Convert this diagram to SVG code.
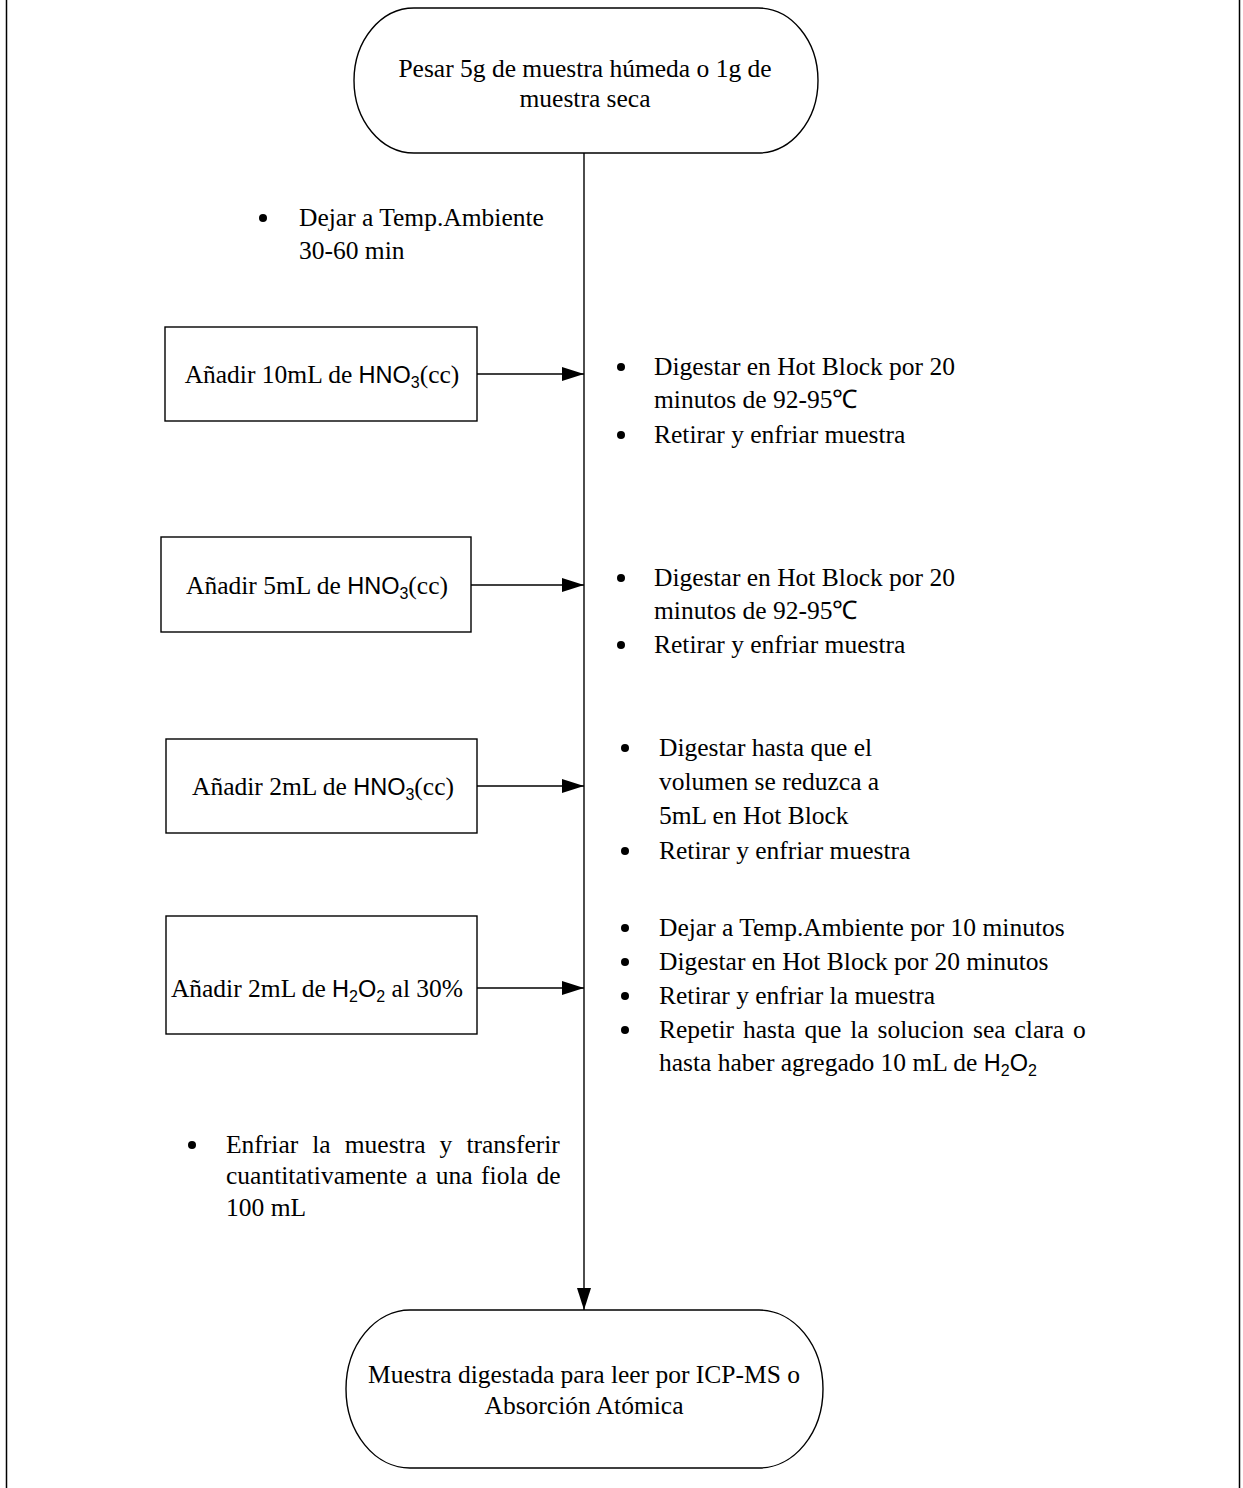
<svg xmlns="http://www.w3.org/2000/svg" width="1243" height="1488" viewBox="0 0 1243 1488">
  <style>
    .shape { fill: #fff; stroke: #000; stroke-width: 1.4; }
    .edge { fill: none; stroke: #000; stroke-width: 1.4; }
    text { font-family: "Liberation Serif", "Times New Roman", serif; font-size: 25.5px; fill: #000; }
    .c { text-anchor: middle; }
    .sans { font-family: "Liberation Sans", Arial, sans-serif; font-size: 23.5px; }
    .sub { font-family: "Liberation Sans", Arial, sans-serif; font-size: 16px; }
    .dot { fill: #000; }
  </style>
  <defs>
    <marker id="arrow" markerUnits="userSpaceOnUse" markerWidth="22" markerHeight="14" refX="22" refY="7" orient="auto">
      <path d="M0,0 L22,7 L0,14 z" fill="#000"/>
    </marker>
  </defs>

  <rect width="1243" height="1488" fill="#fff"/>
  <!-- page frame (side rules) -->
  <line x1="6.5" y1="0" x2="6.5" y2="1488" stroke="#000" stroke-width="1.5"/>
  <line x1="1239.5" y1="0" x2="1239.5" y2="1488" stroke="#000" stroke-width="1.5"/>

  <!-- connectors -->
  <g id="connectors">
    <line class="edge" x1="584" y1="153" x2="584" y2="1310" marker-end="url(#arrow)"/>
    <line class="edge" x1="477" y1="374" x2="584" y2="374" marker-end="url(#arrow)"/>
    <line class="edge" x1="471" y1="585" x2="584" y2="585" marker-end="url(#arrow)"/>
    <line class="edge" x1="477" y1="786" x2="584" y2="786" marker-end="url(#arrow)"/>
    <line class="edge" x1="477" y1="988" x2="584" y2="988" marker-end="url(#arrow)"/>
  </g>

  <!-- start terminator -->
  <g id="start">
    <rect class="shape" x="354" y="8" width="464" height="145" rx="60" ry="72.5"/>
    <text class="c" x="585" y="77">Pesar 5g de muestra húmeda o 1g de</text>
    <text class="c" x="585" y="107">muestra seca</text>
  </g>

  <!-- note: rest at ambient temperature -->
  <g id="note-ambient">
    <circle class="dot" cx="263" cy="218" r="4"/>
    <text x="299" y="226">Dejar a Temp.Ambiente</text>
    <text x="299" y="259">30-60 min</text>
  </g>

  <!-- step 1 -->
  <g id="step1">
    <rect class="shape" x="165" y="327" width="312" height="94"/>
    <text class="c" x="322" y="383">Añadir 10mL de <tspan class="sans">HNO</tspan><tspan class="sub" dy="5">3</tspan><tspan dy="-5">(cc)</tspan></text>
  </g>
  <g id="note1">
    <circle class="dot" cx="621" cy="367" r="4"/>
    <text x="654" y="375">Digestar en Hot Block por 20</text>
    <text x="654" y="408">minutos de 92-95℃</text>
    <circle class="dot" cx="621" cy="435" r="4"/>
    <text x="654" y="443">Retirar y enfriar muestra</text>
  </g>

  <!-- step 2 -->
  <g id="step2">
    <rect class="shape" x="161" y="537" width="310" height="95"/>
    <text class="c" x="317" y="594">Añadir 5mL de <tspan class="sans">HNO</tspan><tspan class="sub" dy="5">3</tspan><tspan dy="-5">(cc)</tspan></text>
  </g>
  <g id="note2">
    <circle class="dot" cx="621" cy="578" r="4"/>
    <text x="654" y="586">Digestar en Hot Block por 20</text>
    <text x="654" y="619">minutos de 92-95℃</text>
    <circle class="dot" cx="621" cy="645" r="4"/>
    <text x="654" y="653">Retirar y enfriar muestra</text>
  </g>

  <!-- step 3 -->
  <g id="step3">
    <rect class="shape" x="166" y="739" width="311" height="94"/>
    <text class="c" x="323" y="795">Añadir 2mL de <tspan class="sans">HNO</tspan><tspan class="sub" dy="5">3</tspan><tspan dy="-5">(cc)</tspan></text>
  </g>
  <g id="note3">
    <circle class="dot" cx="625" cy="748" r="4"/>
    <text x="659" y="756">Digestar hasta que el</text>
    <text x="659" y="790">volumen se reduzca a</text>
    <text x="659" y="824">5mL en Hot Block</text>
    <circle class="dot" cx="625" cy="851" r="4"/>
    <text x="659" y="859">Retirar y enfriar muestra</text>
  </g>

  <!-- step 4 -->
  <g id="step4">
    <rect class="shape" x="166" y="916" width="311" height="118"/>
    <text class="c" x="317" y="997">Añadir 2mL de <tspan class="sans">H</tspan><tspan class="sub" dy="5">2</tspan><tspan class="sans" dy="-5">O</tspan><tspan class="sub" dy="5">2</tspan><tspan dy="-5"> al 30%</tspan></text>
  </g>
  <g id="note4">
    <circle class="dot" cx="625" cy="928" r="4"/>
    <text x="659" y="936">Dejar a Temp.Ambiente por 10 minutos</text>
    <circle class="dot" cx="625" cy="962" r="4"/>
    <text x="659" y="970">Digestar en Hot Block por 20 minutos</text>
    <circle class="dot" cx="625" cy="996" r="4"/>
    <text x="659" y="1004">Retirar y enfriar la muestra</text>
    <circle class="dot" cx="625" cy="1030" r="4"/>
    <text x="659" y="1038" style="word-spacing:2.6px">Repetir hasta que la solucion sea clara o</text>
    <text x="659" y="1071">hasta haber agregado 10 mL de <tspan class="sans">H</tspan><tspan class="sub" dy="5">2</tspan><tspan class="sans" dy="-5">O</tspan><tspan class="sub" dy="5">2</tspan></text>
  </g>

  <!-- note: cool and transfer -->
  <g id="note-transfer">
    <circle class="dot" cx="192" cy="1145" r="4"/>
    <text x="226" y="1153" style="word-spacing:7.7px">Enfriar la muestra y transferir</text>
    <text x="226" y="1184" style="word-spacing:2.2px">cuantitativamente a una fiola de</text>
    <text x="226" y="1216">100 mL</text>
  </g>

  <!-- end terminator -->
  <g id="end">
    <rect class="shape" x="346" y="1310" width="477" height="158" rx="64" ry="79"/>
    <text class="c" x="584" y="1383">Muestra digestada para leer por ICP-MS o</text>
    <text class="c" x="584" y="1414">Absorción Atómica</text>
  </g>
</svg>
